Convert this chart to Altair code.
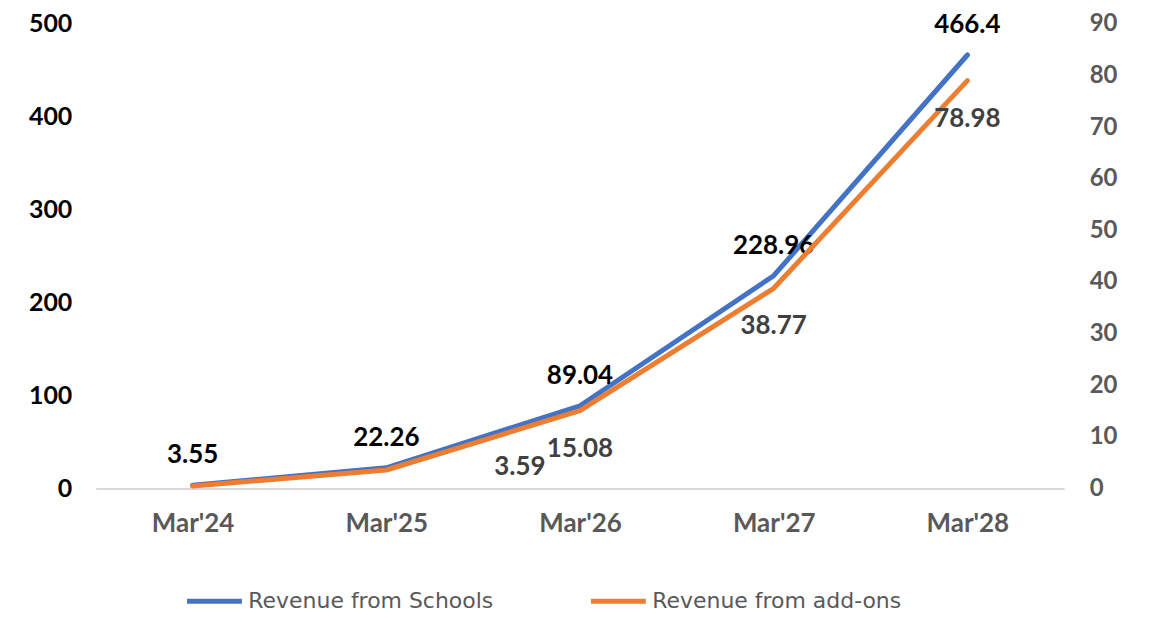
import altair as alt
import pandas as pd

periods = ["Mar'24", "Mar'25", "Mar'26", "Mar'27", "Mar'28"]
schools = [3.55, 22.26, 89.04, 228.96, 466.4]
school_labels = ["3.55", "22.26", "89.04", "228.96", "466.4"]
addons = [0.5, 3.59, 15.08, 38.77, 78.98]
addon_labels = ["", "3.59", "15.08", "38.77", "78.98"]
series_names = ["Revenue from Schools", "Revenue from add-ons"]
colors = ["#4472C4", "#ED7D31"]
left_ticks = [0, 100, 200, 300, 400, 500]
right_ticks = [0, 10, 20, 30, 40, 50, 60, 70, 80, 90]

df_s = pd.DataFrame({"period": periods, "value": schools, "label": school_labels,
                     "series": series_names[0]})
df_a = pd.DataFrame({"period": periods, "value": addons, "label": addon_labels,
                     "series": series_names[1]})

FONT = "Lato"

x = alt.X("period:N", sort=periods, title=None,
          scale=alt.Scale(type="point", padding=0.5),
          axis=alt.Axis(labelAngle=0, ticks=False, domain=True, domainColor="#D9D9D9",
                        domainWidth=2, labelFont=FONT, labelFontSize=26,
                        labelFontWeight="bold", labelColor="#595959", labelPadding=22))

color = alt.Color("series:N", title=None,
                  scale=alt.Scale(domain=series_names, range=colors),
                  legend=alt.Legend(orient="none", legendX=89, legendY=566,
                                    direction="horizontal", symbolType="stroke",
                                    symbolSize=3025, symbolStrokeWidth=5, clipHeight=26,
                                    labelFont="DejaVu Sans", labelFontSize=22,
                                    labelColor="#595959", labelOffset=4, labelLimit=0,
                                    columnPadding=95, title=None, padding=0))

y_left = alt.Y("value:Q", title=None, scale=alt.Scale(domain=[0, 500], nice=False),
               axis=alt.Axis(orient="left", values=left_ticks, grid=False, ticks=False,
                             domain=False, labelFont=FONT, labelFontSize=25,
                             labelFontWeight="bold", labelColor="#000000", labelPadding=24))

y_right = alt.Y("value:Q", title=None, scale=alt.Scale(domain=[0, 90], nice=False),
                axis=alt.Axis(orient="right", values=right_ticks, grid=False, ticks=False,
                              domain=False, labelFont=FONT, labelFontSize=24,
                              labelFontWeight="bold", labelColor="#595959", labelPadding=25))

line_s = alt.Chart(df_s).mark_line(strokeWidth=5, strokeCap="round", strokeJoin="round").encode(
    x=x, y=y_left, color=color)
text_s = alt.Chart(df_s).mark_text(dy=-30, font=FONT, fontSize=26, fontWeight="bold",
                                   color="#000000", baseline="middle").encode(
    x=x, y=y_left, text="label:N")

line_a = alt.Chart(df_a).mark_line(strokeWidth=5, strokeCap="round", strokeJoin="round").encode(
    x=x, y=y_right, color=color)
text_a = alt.Chart(df_a).transform_filter(
    alt.datum.period != "Mar'25").mark_text(
    dy=38, font=FONT, fontSize=26, fontWeight="bold", color="#404040",
    baseline="middle").encode(x=x, y=y_right, text="label:N")
text_a2 = alt.Chart(df_a).transform_filter(
    alt.datum.period == "Mar'25").mark_text(
    dx=134, dy=-3, font=FONT, fontSize=26, fontWeight="bold", color="#404040",
    baseline="middle").encode(x=x, y=y_right, text="label:N")

left = alt.layer(line_s, text_s)
right = alt.layer(line_a, text_a, text_a2)

chart = alt.layer(left, right).resolve_scale(y="independent").properties(
    width=971, height=466,
    padding={"left": 88, "top": 15, "right": 80, "bottom": 128},
    autosize=alt.AutoSizeParams(type="none"),
).configure(background="white").configure_view(stroke=None)

chart.save("out.html", embed_options={"renderer": "svg", "actions": False})
